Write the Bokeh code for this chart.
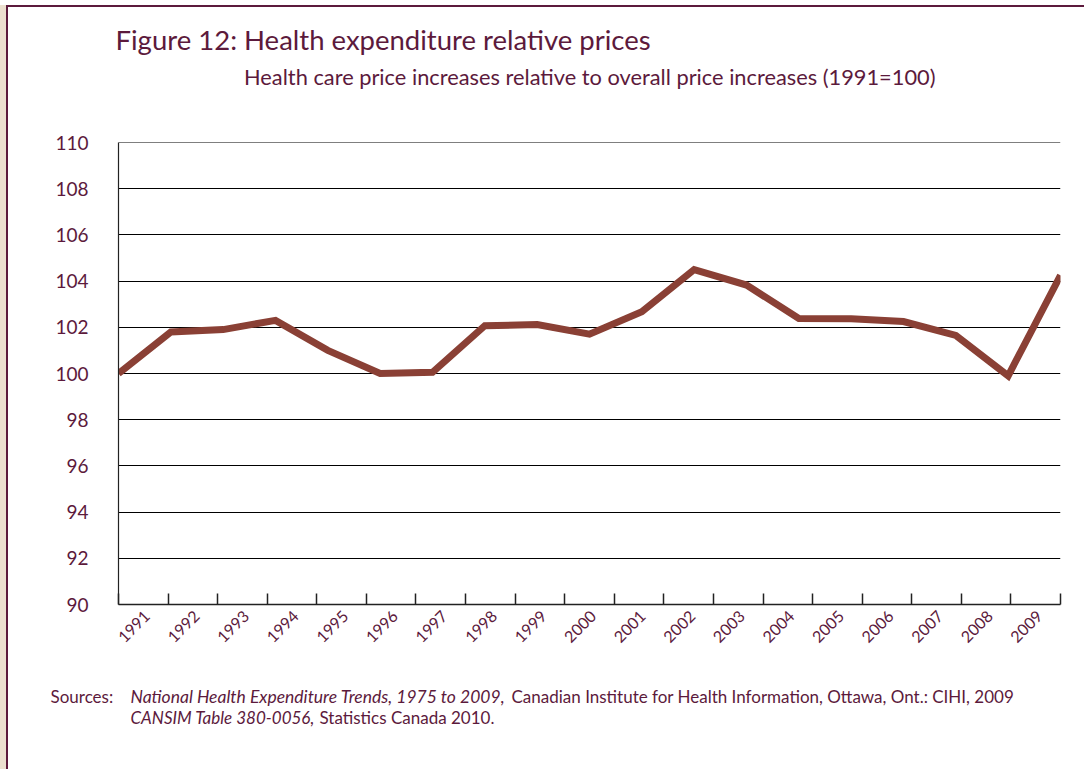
import math
from bokeh.plotting import figure
from bokeh.models import Range1d, LinearAxis, FixedTicker, Grid, Span
from bokeh.core.properties import value
from bokeh.embed import file_html
from bokeh.resources import INLINE

# ---- data ----
years = list(range(1991, 2010))
relative_price = [100.0, 101.8, 101.9, 102.3, 101.0, 100.0, 100.05, 102.07, 102.12, 101.7,
                  102.67, 104.5, 103.83, 102.38, 102.37, 102.25, 101.65, 99.9, 104.25]
year_labels = [str(y) for y in years]
y_ticks = list(range(90, 111, 2))

title_text = "Figure 12: Health expenditure relative prices"
subtitle_text = "Health care price increases relative to overall price increases (1991=100)"
src_head = "Sources:"
src1_italic = "National Health Expenditure Trends, 1975 to 2009,"
src1_normal = "Canadian Institute for Health Information, Ottawa, Ont.: CIHI, 2009"
src2_italic = "CANSIM Table 380-0056,"
src2_normal = "Statistics Canada 2010."

TEXT = "#5c1a3c"
LINE = "#8a4035"
BEIGE = "#ece0cf"
FONT = "Lato"
W = 1078


def text_panel(h):
    f = figure(width=W, height=h, output_backend="svg", toolbar_location=None,
               x_range=Range1d(0, W), y_range=Range1d(h, 0),
               x_axis_type=None, y_axis_type=None, min_border=0)
    f.outline_line_color = None
    f.grid.visible = False
    f.border_fill_color = "white"
    f.background_fill_color = "white"
    return f


def put(f, txt, x, y, size, style="normal", align="left"):
    f.text(x=[x], y=[y], text=[txt], text_font=value(FONT), text_font_size=value(size),
           text_color=TEXT, text_font_style=style, text_baseline="alphabetic",
           text_align=align)


# ---- header ----
header = text_panel(100)
put(header, title_text, 107, 32, "27.5px")
put(header, subtitle_text, 927, 69, "21.8px", align="right")

# ---- chart ----
p = figure(width=W, height=557, output_backend="svg", toolbar_location=None,
           x_range=Range1d(years[0], years[-1]), y_range=Range1d(90, 110),
           x_axis_type=None, y_axis_type=None,
           min_border_left=110, min_border_right=26, min_border_top=37, min_border_bottom=58)
p.outline_line_color = None
p.background_fill_color = "white"
p.border_fill_color = "white"

shift = 0.08
p.extra_x_ranges = {"cat": Range1d(-0.5 - shift, len(years) - 0.5 - shift)}
xaxis = LinearAxis(x_range_name="cat",
                   ticker=FixedTicker(ticks=list(range(len(years))),
                                      minor_ticks=[i - 0.5 - shift for i in range(len(years) + 1)]),
                   major_label_overrides={i: lab for i, lab in enumerate(year_labels)})
xaxis.major_tick_in = 0
xaxis.major_tick_out = 0
xaxis.minor_tick_in = 11
xaxis.minor_tick_out = 0
xaxis.minor_tick_line_color = "#222222"
xaxis.minor_tick_line_width = 1.5
xaxis.axis_line_color = "#222222"
xaxis.axis_line_width = 1.5
xaxis.major_label_orientation = math.pi / 4
xaxis.major_label_text_font = FONT
xaxis.major_label_text_font_size = "16px"
xaxis.major_label_text_color = TEXT
xaxis.major_label_standoff = 9
p.add_layout(xaxis, "below")

yaxis = LinearAxis(ticker=FixedTicker(ticks=y_ticks))
yaxis.major_tick_in = 0
yaxis.major_tick_out = 0
yaxis.minor_tick_line_color = None
yaxis.axis_line_color = "#222222"
yaxis.axis_line_width = 1.2
yaxis.major_label_text_font = FONT
yaxis.major_label_text_font_size = "19px"
yaxis.major_label_text_color = TEXT
yaxis.major_label_standoff = 30
p.add_layout(yaxis, "left")

p.add_layout(Grid(dimension=1, ticker=FixedTicker(ticks=y_ticks),
                  grid_line_color="black", grid_line_width=1))
p.add_layout(Span(location=max(y_ticks), dimension="width", line_color="black", line_width=1))

p.line(years, relative_price, line_width=7, line_color=LINE, line_join="miter")

# ---- footer ----
footer = text_panel(107)
put(footer, src_head, 42, 33.5, "17px")
put(footer, src1_italic, 122, 33.5, "17.5px", "italic")
put(footer, src1_normal, 503, 33.5, "17px")
put(footer, src2_italic, 122, 54.5, "17px", "italic")
put(footer, src2_normal, 311, 54.5, "17px")

side = {"border-left": f"2px solid {TEXT}", "margin-left": "6px",
        "box-shadow": f"-6px 0 0 0 {BEIGE}"}
header.styles = dict(side, **{"border-top": f"2px solid {TEXT}", "margin-top": "5px"})
p.styles = dict(side)
footer.styles = dict(side)

open("out.html", "w").write(file_html([header, p, footer], INLINE))
